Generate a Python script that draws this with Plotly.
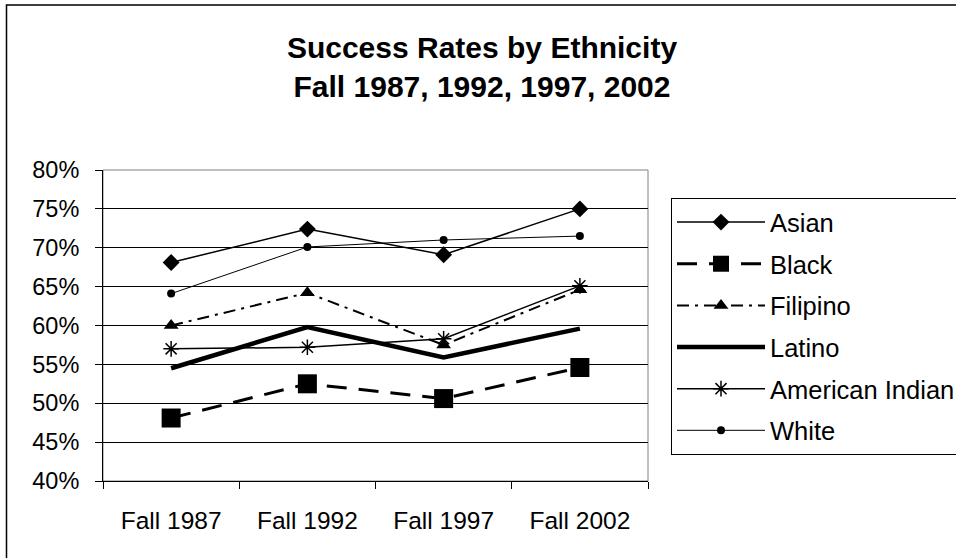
import plotly.graph_objects as go

categories = ["Fall 1987", "Fall 1992", "Fall 1997", "Fall 2002"]
asian = [0.681, 0.724, 0.691, 0.750]
black = [0.481, 0.525, 0.506, 0.546]
filipino = [0.600, 0.642, 0.575, 0.646]
latino = [0.545, 0.598, 0.559, 0.596]
american_indian = [0.570, 0.572, 0.583, 0.651]
white = [0.641, 0.701, 0.710, 0.715]

FONT = "Liberation Sans, Arial, sans-serif"

series = [
    ("Asian", asian, dict(color="black", width=1.5, dash="solid"),
     dict(symbol="diamond", size=13, color="black")),
    ("Black", black, dict(color="black", width=3, dash="20px,12px"),
     dict(symbol="square", size=19, color="black")),
    ("Filipino", filipino, dict(color="black", width=2, dash="12px,6px,3px,6px"),
     dict(symbol="triangle-up", size=13, color="black")),
    ("Latino", latino, dict(color="black", width=4.5, dash="solid"), None),
    ("American Indian", american_indian, dict(color="black", width=1.5, dash="solid"),
     dict(symbol="asterisk-open", size=13, color="black", line=dict(color="black", width=1.5))),
    ("White", white, dict(color="black", width=1, dash="solid"),
     dict(symbol="circle", size=8, color="black")),
]

fig = go.Figure()
for i, (name, vals, line, marker) in enumerate(series):
    fig.add_trace(go.Scatter(
        x=categories, y=vals, name=name,
        mode="lines+markers" if marker else "lines",
        line=line, marker=marker if marker else None,
        legendgroup=str(i),
    ))

fig.update_layout(
    width=956, height=558,
    margin=dict(l=103, r=308, t=170, b=77, autoexpand=False),
    paper_bgcolor="white", plot_bgcolor="white",
    font=dict(family=FONT, size=24, color="black"),
    title=dict(
        text="<b>Success Rates by Ethnicity<br>Fall 1987, 1992, 1997, 2002</b>",
        x=482 / 956, xanchor="center", y=1 - 58 / 558, yanchor="top",
        font=dict(family=FONT, size=30, color="black"),
    ),
    showlegend=True,
    legend=dict(
        x=(671 - 103) / 545, xanchor="left",
        y=(481 - 198) / 311, yanchor="top",
        bordercolor="black", borderwidth=1, bgcolor="white",
        font=dict(family=FONT, size=25.5, color="black"),
        itemwidth=88, tracegroupgap=5.5,
    ),
    xaxis=dict(
        type="category", tickson="boundaries", ticks="outside", ticklen=7,
        tickcolor="black", showline=True, linecolor="black", linewidth=1,
        showgrid=False, ticklabelstandoff=18, range=[-0.5, 3.5],
        tickfont=dict(size=24.5),
    ),
    yaxis=dict(
        range=[0.40, 0.80], dtick=0.05, tickformat=".0%",
        ticks="outside", ticklen=7, tickcolor="black",
        showline=True, linecolor="black", linewidth=1,
        showgrid=True, gridcolor="black", gridwidth=1,
        ticklabelstandoff=11, zeroline=False, tickfont=dict(size=23.5),
    ),
    shapes=[
        dict(type="rect", xref="paper", yref="paper", x0=0, x1=1, y0=0, y1=1,
             line=dict(color="#808080", width=1), layer="below"),
        dict(type="rect", xref="paper", yref="paper",
             x0=(6.5 - 103) / 545, x1=1.7, y0=-0.5, y1=(481 - 5) / 311,
             line=dict(color="black", width=1.5), layer="below"),
    ],
)

fig.write_html("out.html", config={"displayModeBar": False},
               post_script="document.body.style.margin='0';")
